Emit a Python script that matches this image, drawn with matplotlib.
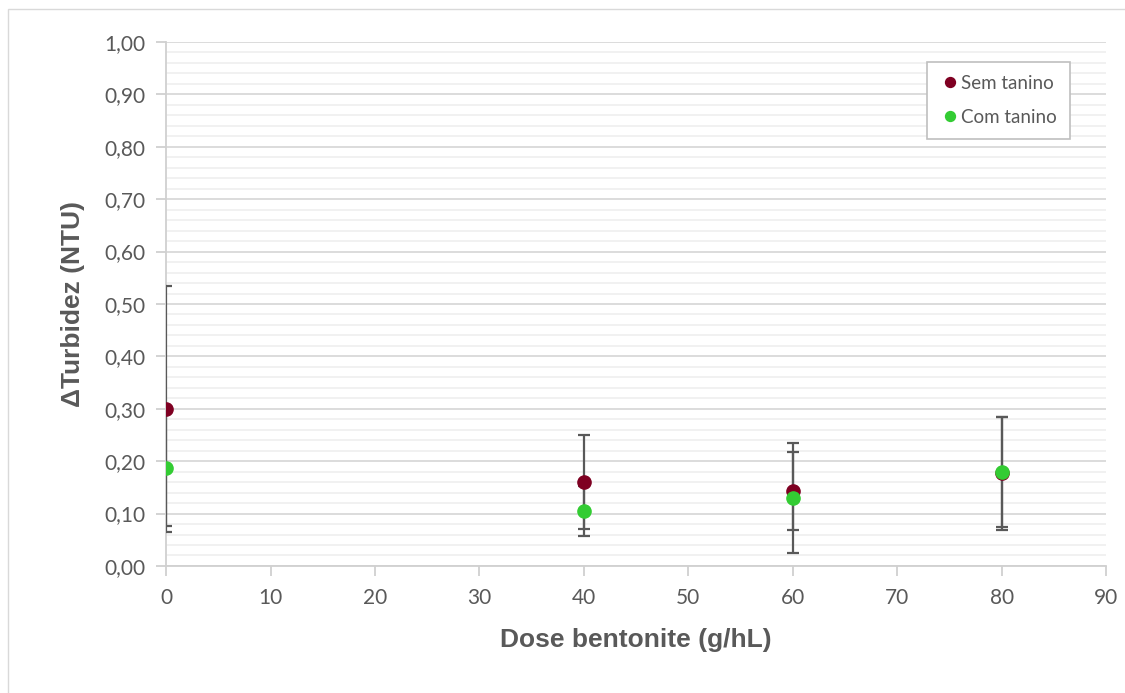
import matplotlib.pyplot as plt
from matplotlib.patches import Rectangle
from matplotlib.ticker import MultipleLocator, FuncFormatter

# data
dose = [0, 40, 60, 80]
sem_tanino = [0.300, 0.160, 0.143, 0.177]
sem_err = [0.235, 0.090, 0.075, 0.108]
com_tanino = [0.187, 0.105, 0.130, 0.180]
com_err = [0.110, 0.048, 0.105, 0.105]

grey = '#595959'
plt.rcParams['font.family'] = ['Lato', 'DejaVu Sans']

fig = plt.figure(figsize=(11.25, 6.93), dpi=100)
ax = fig.add_axes([0.1476, 0.1833, 0.8356, 0.7561])

# outer chart border (top/left visible only)
fig.patches.append(Rectangle((8/1125, -0.1), 1.2, 1 - 9/693 + 0.1, transform=fig.transFigure,
                             fill=False, edgecolor='#d9d9d9', lw=1))

ax.errorbar(dose, sem_tanino, yerr=sem_err, fmt='none', ecolor=grey, elinewidth=1.6,
            capsize=4.3, capthick=1.6, zorder=3)
ax.errorbar(dose, com_tanino, yerr=com_err, fmt='none', ecolor=grey, elinewidth=1.6,
            capsize=4.3, capthick=1.6, zorder=3)
ax.plot(dose, sem_tanino, 'o', color='#7f0022', ms=9.5, label='Sem tanino', zorder=4)
ax.plot(dose, com_tanino, 'o', color='#33cc33', ms=9.5, label='Com tanino', zorder=5)

ax.set_xlim(0, 90)
ax.set_ylim(0, 1.0)
ax.xaxis.set_major_locator(MultipleLocator(10))
ax.yaxis.set_major_locator(MultipleLocator(0.1))
ax.yaxis.set_minor_locator(MultipleLocator(0.02))
ax.yaxis.set_major_formatter(FuncFormatter(lambda v, p: f'{v:.2f}'.replace('.', ',')))

ax.grid(axis='y', which='major', color='#d9d9d9', lw=1.3)
ax.grid(axis='y', which='minor', color='#f0f0f0', lw=1.3)
ax.set_axisbelow(True)

for s in ['top', 'right']:
    ax.spines[s].set_visible(False)
for s in ['left', 'bottom']:
    ax.spines[s].set_color('#d0d0d0')
    ax.spines[s].set_linewidth(1.3)

ax.tick_params(axis='both', which='major', colors='#d0d0d0', labelcolor=grey,
               labelsize=15, length=7, width=1.3, direction='out')
ax.tick_params(axis='y', which='minor', length=0)
ax.tick_params(axis='x', pad=9)
ax.tick_params(axis='y', pad=8)

ax.set_xlabel('Dose bentonite (g/hL)', fontsize=19, fontweight='bold', color=grey,
              family=['Liberation Sans', 'DejaVu Sans'], labelpad=14)
ax.set_ylabel('ΔTurbidez (NTU)', fontsize=19, fontweight='bold', color=grey,
              family=['Liberation Sans', 'DejaVu Sans'], labelpad=14)

leg = ax.legend(loc='upper right', bbox_to_anchor=(0.9617, 0.962), borderaxespad=0,
                fontsize=13.5, markerscale=0.75, handletextpad=0.05, handlelength=1.1,
                borderpad=0.7, labelspacing=0.9, fancybox=False, framealpha=1)
leg.get_frame().set_edgecolor('#bfbfbf')
leg.get_frame().set_linewidth(1.2)
for t in leg.get_texts():
    t.set_color(grey)

fig.savefig('out.png', dpi=100)
